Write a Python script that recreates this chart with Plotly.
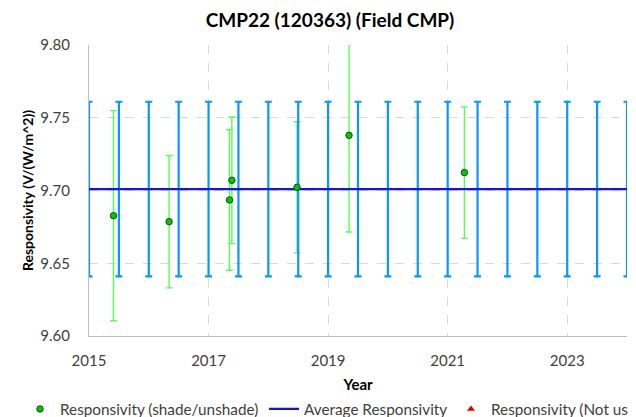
import plotly.graph_objects as go

# Data
resp_years = [2015.41, 2016.34, 2017.35, 2017.39, 2018.48, 2019.35, 2021.28]
resp_values = [9.6827, 9.6786, 9.6935, 9.7070, 9.7022, 9.7379, 9.7123]
resp_errors = [0.0722, 0.0455, 0.0483, 0.0435, 0.0451, 0.0664, 0.0452]

avg_years = [2015.0, 2015.5, 2016.0, 2016.5, 2017.0, 2017.5, 2018.0, 2018.5,
             2019.0, 2019.5, 2020.0, 2020.5, 2021.0, 2021.5, 2022.0, 2022.5,
             2023.0, 2023.5, 2024.0]
avg_values = [9.701] * len(avg_years)
avg_errors = [0.060] * len(avg_years)

x_range = [2015, 2024]
y_range = [9.60, 9.80]

FONT = "Lato"
TXT = "#404040"
W, H = 636, 417

fig = go.Figure()

# green error bars (drawn under the average line)
fig.add_trace(go.Scatter(
    x=resp_years, y=resp_values, mode="markers",
    marker=dict(size=1, opacity=0),
    error_y=dict(type="data", array=resp_errors, visible=True,
                 color="#55FF55", thickness=1.4, width=3.5),
    showlegend=False, hoverinfo="skip"))

# average responsivity line with its uncertainty bars
fig.add_trace(go.Scatter(
    x=avg_years, y=avg_values, mode="lines", name="Average Responsivity",
    line=dict(color="#1414DC", width=2.2),
    error_y=dict(type="data", array=avg_errors, visible=True,
                 color="#0A96FF", thickness=2.2, width=3.5),
    legend="legend2"))

# green markers on top
fig.add_trace(go.Scatter(
    x=resp_years, y=resp_values, mode="markers",
    name="Responsivity (shade/unshade)",
    marker=dict(color="#00C800", size=6.5, line=dict(color="#1A4D1A", width=1)),
    legend="legend"))

# not-used series (empty)
fig.add_trace(go.Scatter(
    x=[None], y=[None], mode="markers", name="Responsivity (Not used)",
    marker=dict(color="#E00000", symbol="triangle-up", size=7),
    legend="legend3"))

legend_common = dict(orientation="h", xref="container", yref="container",
                     yanchor="middle", y=(H - 401) / H, xanchor="left",
                     font=dict(family=FONT, size=15.3, color=TXT),
                     bgcolor="rgba(0,0,0,0)", itemwidth=30)

fig.update_layout(
    width=W, height=H,
    margin=dict(l=81, r=16.5, t=37, b=89, autoexpand=False),
    paper_bgcolor="white", plot_bgcolor="white",
    font=dict(family=FONT, color=TXT),
    title=dict(text="CMP22 (120363) (Field CMP)", x=322 / W, xanchor="center",
               y=(H - 12) / H, yanchor="middle", xref="container", yref="container",
               font=dict(family=FONT, size=19, color="#000000", weight="bold")),
    xaxis=dict(range=x_range, tick0=2015, dtick=2, showgrid=True,
               gridcolor="#D9D9D9", griddash="dash", gridwidth=1,
               showline=True, linecolor="#BFBFBF", linewidth=1, zeroline=False,
               ticks="", ticklabelstandoff=11,
               tickfont=dict(family=FONT, size=15, color=TXT),
               title=dict(text="Year", standoff=25,
                          font=dict(family=FONT, size=15, color="#000000", weight="bold"))),
    yaxis=dict(range=y_range, dtick=0.05, tick0=9.60, tickformat=".2f", showgrid=True,
               gridcolor="#D9D9D9", griddash="dash", gridwidth=1,
               showline=True, linecolor="#BFBFBF", linewidth=1, zeroline=False,
               ticks="", ticklabelstandoff=15,
               tickfont=dict(family=FONT, size=15, color=TXT),
               title=dict(text="Responsivity (V/(W/m^2))", standoff=3,
                          font=dict(family=FONT, size=14, color="#000000", weight="bold"))),
    legend=dict(**legend_common, x=12 / W),
    legend2=dict(**legend_common, x=256 / W),
    legend3=dict(**legend_common, x=443 / W),
)

fig.write_html("out.html")
